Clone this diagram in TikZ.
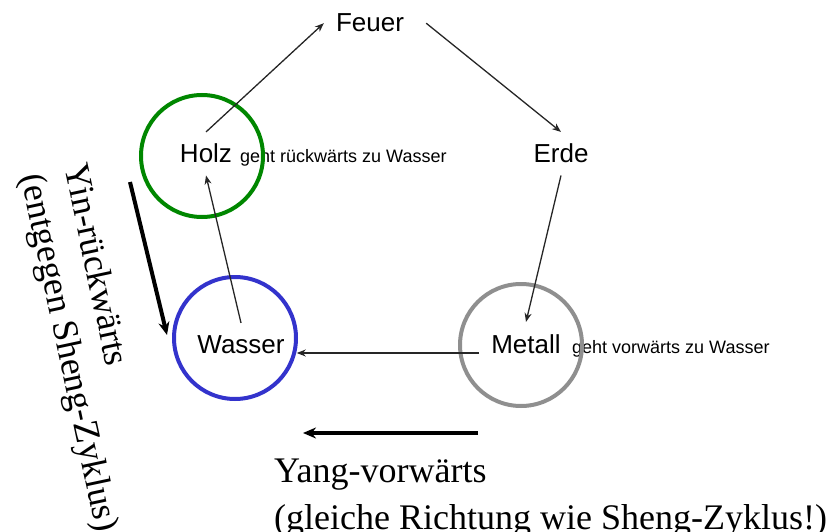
\documentclass[tikz,border=0pt]{standalone}
\usepackage{fontspec}
\setmainfont{Liberation Serif}
\newfontfamily\arialfont{Liberation Sans}
\usetikzlibrary{arrows.meta}

\definecolor{holzcolor}{rgb}{0.000000, 0.530000, 0.000000}
\definecolor{wassercolor}{rgb}{0.200000, 0.200000, 0.800000}
\definecolor{metallcolor}{rgb}{0.560000, 0.560000, 0.560000}
\definecolor{pfeilcolor}{rgb}{0.150000, 0.150000, 0.150000}

\tikzset{
  element/.style={font=\arialfont\fontsize{26}{30}\selectfont, inner sep=12pt},
  hinweis/.style={font=\arialfont\fontsize{18}{21}\selectfont, anchor=base west, inner sep=0pt},
  kreis/.style={circle, line width=4pt, minimum size=122pt, inner sep=0pt},
  zyklus/.style={draw=pfeilcolor, line width=1.3pt, -{Stealth[length=9pt,width=7pt]}},
  richtung/.style={line width=4pt, -{Stealth[length=13pt,width=11pt]}},
  legende/.style={font=\fontsize{36}{42}\selectfont, anchor=base west, inner sep=0pt}
}

\begin{document}
\begin{tikzpicture}[x=1pt,y=-1pt]
\useasboundingbox (0,0) rectangle (838,532);
% elements
\node[element, anchor=base] (feuer) at (370,32) {Feuer};
\node[element, anchor=base] (holz) at (206,163) {Holz};
\node[element, anchor=base] (erde) at (561,163) {Erde};
\node[element, anchor=base] (wasser) at (241,353) {Wasser};
\node[element, anchor=base] (metall) at (526,353) {Metall};
\node[hinweis] (holzhinweis) at (240,163) {geht rückwärts zu Wasser};
\node[hinweis] (metallhinweis) at (572,353) {geht vorwärts zu Wasser};
% circles
\node[kreis, draw=holzcolor] (holzkreis) at (202,156) {};
\node[kreis, draw=wassercolor] (wasserkreis) at (235,338) {};
\node[kreis, draw=metallcolor] (metallkreis) at (521,345) {};
% sheng cycle
\draw[zyklus] (holz.north) -- (feuer.west);
\draw[zyklus] ([xshift=10pt]feuer.east) -- (erde.north);
\draw[zyklus] (erde.south) -- (metall.north);
\draw[zyklus] (metall.base west) -- (wasser.base east);
\draw[zyklus] (wasser.north) -- (holz.south);
% yin
\coordinate (yinstart) at (130,182);
\coordinate (yinende) at (167,335);
\draw[richtung] (yinstart) -- (yinende);
\node[legende, rotate=-78] (yin) at (64,166) {Yin-rückwärts};
\node[legende, rotate=-78] (yinzusatz) at (21,176) {(entgegen Sheng-Zyklus)};
% yang
\coordinate (yangstart) at (478,433);
\coordinate (yangende) at (303,433);
\draw[richtung] (yangstart) -- (yangende);
\node[legende] (yang) at (274,482) {Yang-vorwärts};
\node[legende] (yangzusatz) at (274,529) {(gleiche Richtung wie Sheng-Zyklus!)};
\end{tikzpicture}
\end{document}
